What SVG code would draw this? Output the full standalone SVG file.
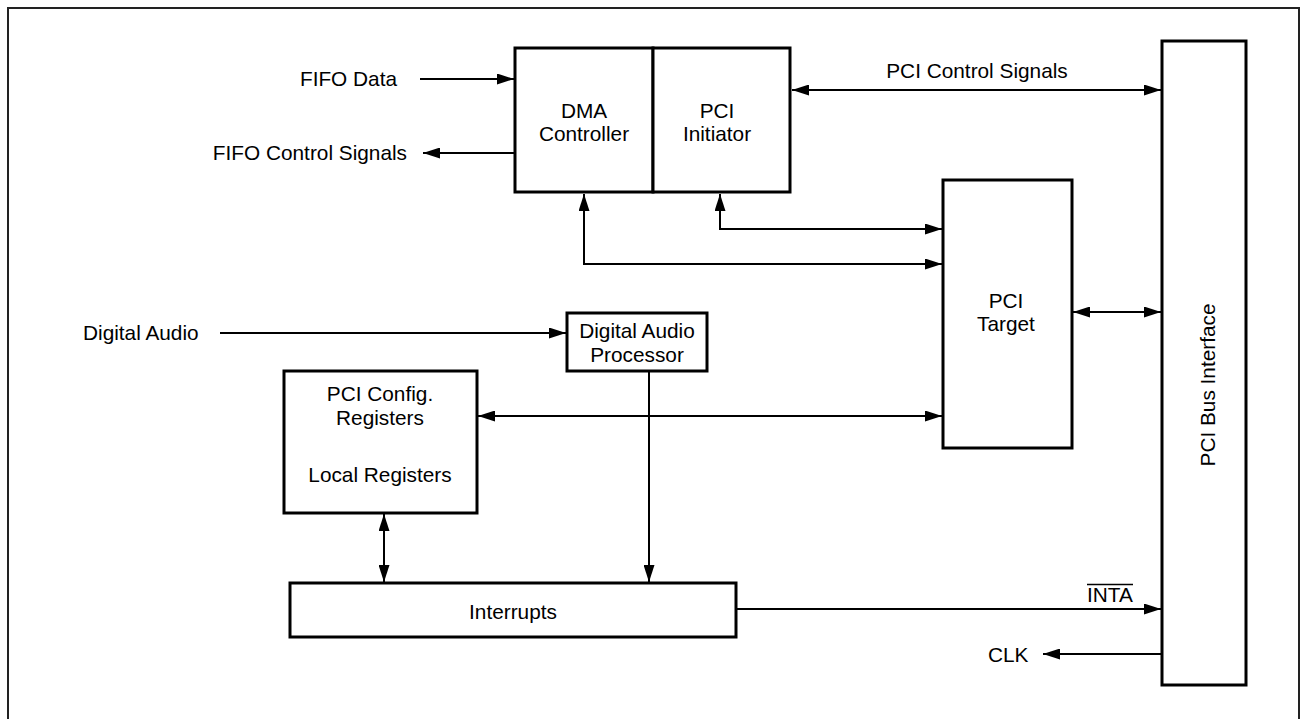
<svg xmlns="http://www.w3.org/2000/svg" width="1306" height="719" viewBox="0 0 1306 719">
<style>
  .box{fill:#fff;stroke:#000;stroke-width:3}
  .ln{fill:none;stroke:#000;stroke-width:2}
  .t{font-family:"Liberation Sans",Arial,Helvetica,sans-serif;font-size:20.8px;fill:#000}
  .c{text-anchor:middle}
  .e{text-anchor:end}
</style>
<defs>
  <marker id="ah" markerUnits="userSpaceOnUse" markerWidth="17" markerHeight="11" viewBox="0 0 17 11" refX="17" refY="5.5" orient="auto-start-reverse">
    <path d="M0,0 L17,5.5 L0,11 z" fill="#000"/>
  </marker>
</defs>
<rect width="1306" height="719" fill="#fff"/>
<path d="M8,719 V8 H1299 V719" fill="none" stroke="#222" stroke-width="2"/>

<g id="connectors">
  <line class="ln" x1="420" y1="79" x2="514" y2="79" marker-end="url(#ah)"/>
  <line class="ln" x1="514" y1="153" x2="423" y2="153" marker-end="url(#ah)"/>
  <line class="ln" x1="792" y1="90" x2="1161" y2="90" marker-start="url(#ah)" marker-end="url(#ah)"/>
  <path class="ln" d="M720,194 V229 H942" marker-start="url(#ah)" marker-end="url(#ah)"/>
  <path class="ln" d="M584,194 V264 H942" marker-start="url(#ah)" marker-end="url(#ah)"/>
  <line class="ln" x1="1073" y1="312" x2="1161" y2="312" marker-start="url(#ah)" marker-end="url(#ah)"/>
  <line class="ln" x1="220" y1="333" x2="566" y2="333" marker-end="url(#ah)"/>
  <line class="ln" x1="478" y1="416" x2="942" y2="416" marker-start="url(#ah)" marker-end="url(#ah)"/>
  <line class="ln" x1="649" y1="371" x2="649" y2="582" marker-end="url(#ah)"/>
  <line class="ln" x1="384" y1="514" x2="384" y2="582" marker-start="url(#ah)" marker-end="url(#ah)"/>
  <line class="ln" x1="737" y1="609" x2="1161" y2="609" marker-end="url(#ah)"/>
  <line class="ln" x1="1161" y1="654" x2="1043" y2="654" marker-end="url(#ah)"/>
</g>

<g id="labels">
  <text class="t e" x="397" y="86">FIFO Data</text>
  <text class="t e" x="407" y="160">FIFO Control Signals</text>
  <text class="t c" x="977" y="78">PCI Control Signals</text>
  <text class="t" x="83" y="340">Digital Audio</text>
  <text class="t" x="1087" y="602">INTA</text>
  <line x1="1087" y1="584.5" x2="1133" y2="584.5" stroke="#000" stroke-width="1.6"/>
  <text class="t" x="988" y="662">CLK</text>
</g>

<g id="dma-controller">
  <rect class="box" x="515" y="48" width="138" height="144"/>
  <text class="t c" x="584" y="118">DMA</text>
  <text class="t c" x="584" y="141">Controller</text>
</g>
<g id="pci-initiator">
  <rect class="box" x="653" y="48" width="137" height="144"/>
  <text class="t c" x="717" y="118">PCI</text>
  <text class="t c" x="717" y="141">Initiator</text>
</g>
<g id="pci-target">
  <rect class="box" x="943" y="180" width="129" height="268"/>
  <text class="t c" x="1006" y="308">PCI</text>
  <text class="t c" x="1006" y="331">Target</text>
</g>
<g id="digital-audio-processor">
  <rect class="box" x="567" y="313" width="140" height="58"/>
  <text class="t c" x="637" y="338">Digital Audio</text>
  <text class="t c" x="637" y="362">Processor</text>
</g>
<g id="pci-config-registers">
  <rect class="box" x="284" y="371" width="193" height="142"/>
  <text class="t c" x="380" y="401">PCI Config.</text>
  <text class="t c" x="380" y="425">Registers</text>
  <text class="t c" x="380" y="482">Local Registers</text>
</g>
<g id="interrupts">
  <rect class="box" x="290" y="583" width="446" height="54"/>
  <text class="t c" x="513" y="619">Interrupts</text>
</g>
<g id="pci-bus-interface">
  <rect class="box" x="1162" y="41" width="84" height="644"/>
  <text class="t c" transform="translate(1215,385) rotate(-90)">PCI Bus Interface</text>
</g>
</svg>
